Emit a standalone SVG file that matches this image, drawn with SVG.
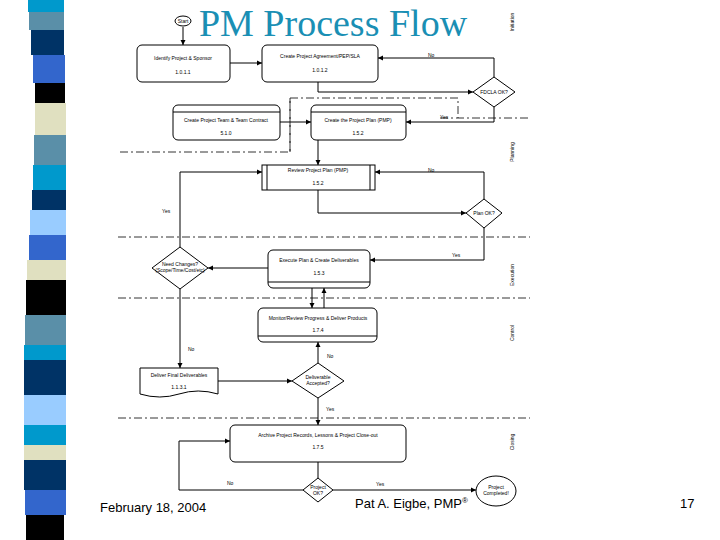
<svg xmlns="http://www.w3.org/2000/svg" width="720" height="540" viewBox="0 0 720 540">
<style>
.n{fill:#fff;stroke:#000;stroke-width:1}
.t{font-family:"Liberation Sans",Arial,sans-serif;font-size:5px;text-anchor:middle;fill:#000}
.l{font-family:"Liberation Sans",Arial,sans-serif;font-size:5px;fill:#000}
.c{fill:none;stroke:#000;stroke-width:1;marker-end:url(#a)}
.p{fill:none;stroke:#000;stroke-width:1}
.dd{fill:none;stroke:#000;stroke-width:0.8;stroke-dasharray:8 3 2 3}
.f{font-family:"Liberation Sans",Arial,sans-serif;font-size:13px;fill:#000}
</style>
<defs><marker id="a" markerWidth="6" markerHeight="6" refX="5" refY="3" orient="auto" markerUnits="userSpaceOnUse"><path d="M0,0.5L5,3L0,5.5z" fill="#000"/></marker></defs>
<rect width="720" height="540" fill="#fff"/>
<g id="stripe">
<rect x="28" y="0" width="36" height="12" fill="#0099cc"/>
<rect x="29" y="12" width="35" height="18" fill="#5a8fa8"/>
<rect x="31" y="30" width="33" height="25" fill="#003366"/>
<rect x="33" y="55" width="32" height="28" fill="#3366cc"/>
<rect x="35" y="83" width="30" height="20" fill="#000"/>
<rect x="35" y="103" width="31" height="32" fill="#e0e0c0"/>
<rect x="34" y="135" width="32" height="30" fill="#5a8fa8"/>
<rect x="33" y="165" width="33" height="25" fill="#0099cc"/>
<rect x="32" y="190" width="34" height="20" fill="#003366"/>
<rect x="30" y="210" width="36" height="25" fill="#99ccff"/>
<rect x="29" y="235" width="37" height="25" fill="#3366cc"/>
<rect x="27" y="260" width="39" height="20" fill="#e0e0c0"/>
<rect x="26" y="280" width="40" height="35" fill="#000"/>
<rect x="25" y="315" width="41" height="30" fill="#5a8fa8"/>
<rect x="24" y="345" width="42" height="15" fill="#0099cc"/>
<rect x="24" y="360" width="42" height="35" fill="#003366"/>
<rect x="24" y="395" width="42" height="30" fill="#99ccff"/>
<rect x="24" y="425" width="42" height="20" fill="#0099cc"/>
<rect x="24" y="445" width="42" height="15" fill="#e0e0c0"/>
<rect x="24" y="460" width="42" height="30" fill="#003366"/>
<rect x="25" y="490" width="41" height="25" fill="#3366cc"/>
<rect x="26" y="515" width="38" height="25" fill="#000"/>
</g>
<text x="333" y="36" font-family="Liberation Serif,serif" font-size="38" text-anchor="middle" fill="#1a8fb4">PM Process Flow</text>
<g id="lanes">
<path class="dd" d="M120 152H290V98H458V118M440 118H530M118 237H530M118 298H530M118 418H530M290 98V152"/>
<g class="l" font-size="5">
<text transform="translate(514,22) rotate(-90)" text-anchor="middle">Initiation</text>
<text transform="translate(514,152) rotate(-90)" text-anchor="middle">Planning</text>
<text transform="translate(514,275) rotate(-90)" text-anchor="middle">Execution</text>
<text transform="translate(514,333) rotate(-90)" text-anchor="middle">Control</text>
<text transform="translate(514,442) rotate(-90)" text-anchor="middle">Closing</text>
</g>
</g>
<g id="connectors">
<path class="c" d="M183 27V45"/>
<path class="c" d="M230 63H262"/>
<path class="c" d="M318 82V92H473"/>
<path class="c" d="M494 77V58H378"/>
<path class="c" d="M494 107V122H406"/>
<path class="c" d="M280 122H311"/>
<path class="c" d="M318 140V165"/>
<path class="c" d="M318 190V213H466"/>
<path class="c" d="M484 199V172H375"/>
<path class="c" d="M484 228V260H370"/>
<path class="c" d="M268 268H208"/>
<path class="c" d="M180 247V172H262"/>
<path class="c" d="M180 289V368"/>
<path class="c" d="M312 288V308"/>
<path class="c" d="M324 308V288"/>
<path class="c" d="M218 381H292"/>
<path class="c" d="M318 363V342"/>
<path class="c" d="M318 398V425"/>
<path class="p" d="M318 462V478"/>
<path class="c" d="M303 490H179V441H230"/>
<path class="c" d="M333 490H476"/>
<text class="l" x="428" y="57">No</text>
<text class="l" x="440" y="119">Yes</text>
<text class="l" x="428" y="172">No</text>
<text class="l" x="452" y="257">Yes</text>
<text class="l" x="162" y="213">Yes</text>
<text class="l" x="188" y="351">No</text>
<text class="l" x="327" y="358">No</text>
<text class="l" x="326" y="411">Yes</text>
<text class="l" x="227" y="485">No</text>
<text class="l" x="376" y="486">Yes</text>
</g>
<g id="start"><ellipse class="n" cx="183" cy="21" rx="8" ry="5"/><text class="t" x="183" y="23">Start</text></g>
<g id="n1"><rect class="n" x="137" y="45" width="93" height="37" rx="5"/><text class="t" x="183" y="60">Identify Project &amp; Sponsor</text><text class="t" x="183" y="74">1.0.1.1</text></g>
<g id="n2"><rect class="n" x="262" y="45" width="116" height="37" rx="5"/><text class="t" x="320" y="58">Create Project Agreement/PEP/SLA</text><text class="t" x="320" y="72">1.0.1.2</text></g>
<g id="d1"><path class="n" d="M473 92L494 77L515 92L494 107Z"/><text class="t" x="494" y="94">FDCLA OK?</text></g>
<g id="n3"><rect class="n" x="173" y="105" width="107" height="35" rx="5"/><path class="p" d="M173 112H280"/><text class="t" x="226" y="122">Create Project Team &amp; Team Contract</text><text class="t" x="226" y="135">5.1.0</text></g>
<g id="n4"><rect class="n" x="311" y="105" width="95" height="35" rx="5"/><path class="p" d="M311 112H406"/><text class="t" x="358" y="122">Create the Project Plan (PMP)</text><text class="t" x="358" y="135">1.5.2</text></g>
<g id="n5"><rect class="n" x="262" y="165" width="113" height="25"/><path class="p" d="M267 165V190M370 165V190"/><text class="t" x="318" y="172">Review Project Plan (PMP)</text><text class="t" x="318" y="185">1.5.2</text></g>
<g id="d2"><path class="n" d="M466 213L484 199L502 213L484 228Z"/><text class="t" x="484" y="215">Plan OK?</text></g>
<g id="n6"><rect class="n" x="268" y="250" width="102" height="38" rx="5"/><path class="p" d="M268 282H370"/><text class="t" x="319" y="262">Execute Plan &amp; Create Deliverables</text><text class="t" x="319" y="275">1.5.3</text></g>
<g id="d3"><path class="n" d="M152 268L180 247L208 268L180 289Z"/><text class="t" x="180" y="266">Need Changes?</text><text class="t" x="180" y="272">(Scope/Time/Cost/etc)</text></g>
<g id="n7"><rect class="n" x="258" y="308" width="119" height="34" rx="5"/><path class="p" d="M258 336H377"/><text class="t" x="318" y="320">Monitor/Review Progress &amp; Deliver Products</text><text class="t" x="318" y="332">1.7.4</text></g>
<g id="doc"><path class="n" d="M140 368H218V394Q198 388 179 394Q160 400 140 394Z"/><text class="t" x="179" y="377">Deliver Final Deliverables</text><text class="t" x="179" y="389">1.1.3.1</text></g>
<g id="d4"><path class="n" d="M292 381L318 363L344 381L318 398Z"/><text class="t" x="318" y="379">Deliverable</text><text class="t" x="318" y="385">Accepted?</text></g>
<g id="n8"><rect class="n" x="230" y="425" width="176" height="37" rx="5"/><text class="t" x="318" y="437">Archive Project Records, Lessons &amp; Project Close-out</text><text class="t" x="318" y="449">1.7.5</text></g>
<g id="d5"><path class="n" d="M303 490L318 478L333 490L318 502Z"/><text class="t" x="318" y="489">Project</text><text class="t" x="318" y="495">OK?</text></g>
<g id="end"><ellipse class="n" cx="496" cy="491" rx="20" ry="15"/><text class="t" x="496" y="489">Project</text><text class="t" x="496" y="495">Completed!</text></g>
<text class="f" x="100" y="512">February 18, 2004</text>
<text class="f" x="355" y="508">Pat A. Eigbe, PMP<tspan font-size="8" dy="-5">®</tspan></text>
<text class="f" x="680" y="508">17</text>
</svg>
